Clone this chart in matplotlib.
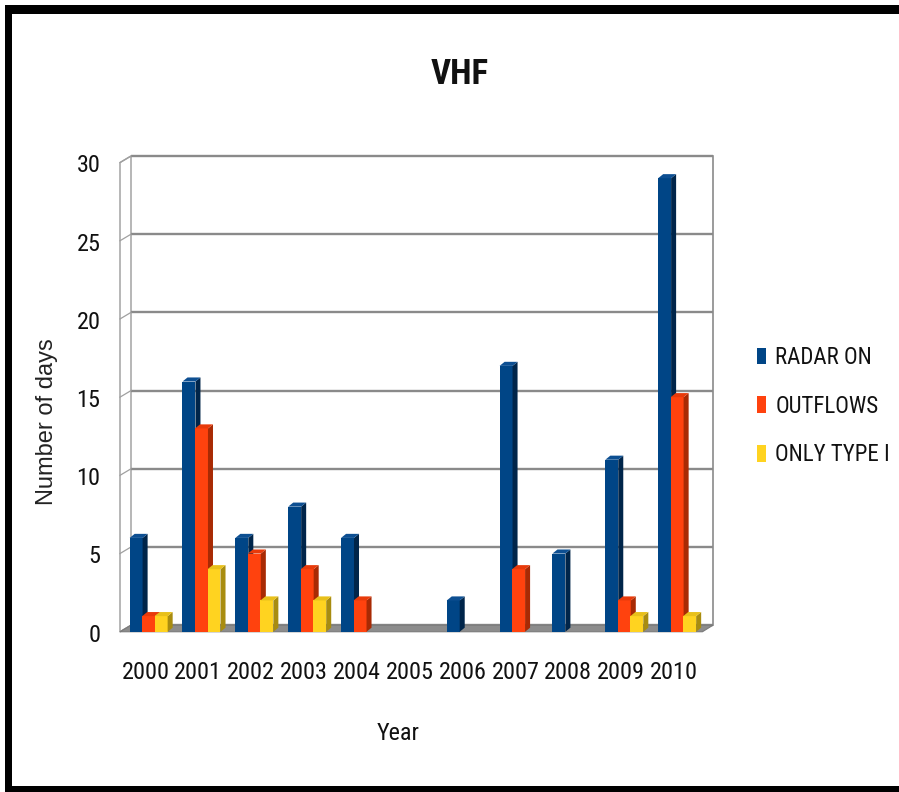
import matplotlib
matplotlib.use("Agg")
import matplotlib.pyplot as plt
import matplotlib.transforms as mtransforms
from matplotlib.patches import Polygon, Rectangle, Patch

# ---- data -------------------------------------------------------------
years = ["2000", "2001", "2002", "2003", "2004", "2005",
         "2006", "2007", "2008", "2009", "2010"]
radar_on = [6, 16, 6, 8, 6, 0, 2, 17, 5, 11, 29]
outflows = [1, 13, 5, 4, 2, 0, 0, 4, 0, 2, 15]
only_type_i = [1, 4, 2, 2, 0, 0, 0, 0, 0, 1, 1]
series_names = ["RADAR ON", "OUTFLOWS", "ONLY TYPE I"]
y_ticks = [0, 5, 10, 15, 20, 25, 30]

# ---- fonts --------------------------------------------------------------
plt.rcParams["font.family"] = ["Roboto Condensed", "Liberation Sans", "DejaVu Sans"]

# ---- style --------------------------------------------------------------
front_cols = ["#004586", "#ff420e", "#ffd320"]
side_cols = ["#00254a", "#a82a04", "#a88c10"]
top_cols = ["#0d4f92", "#e83a0a", "#e8c01a"]
grid_col = "#8a8a8a"

W, H, DPI = 899, 792, 100
fig = plt.figure(figsize=(W / DPI, H / DPI), dpi=DPI)
fig.patch.set_facecolor("white")

ax = fig.add_axes([120 / W, 1 - 633 / H, (713 - 120) / W, (633 - 156) / H])
x_left, x_right = (120 - 145.5) / 52.85, (713 - 145.5) / 52.85
ax.set_xlim(x_left, x_right)
ax.set_ylim(-0.5, 30)
for s in ax.spines.values():
    s.set_visible(False)
ax.set_facecolor("none")

# 3D geometry (in data units)
back_left = (131 - 145.5) / 52.85
drop = 0.42          # front plane sits slightly below the back wall
depth_x, depth_y = 0.095, 0.26
bar_w, step, first_off = 0.245, 0.237, -0.30

# left wall
ax.add_patch(Polygon([(x_left, -drop), (x_left, 30 - drop), (back_left, 30), (back_left, 0)],
                     closed=True, facecolor="white", edgecolor="#9a9a9a", lw=1.0,
                     zorder=1, clip_on=False))
# floor
ax.add_patch(Polygon([(x_left, -drop), (back_left, 0), (x_right, 0), (x_right - 0.2, -drop)],
                     closed=True, facecolor="#8c8c8c", edgecolor="#7a7a7a", lw=0.8,
                     zorder=2, clip_on=False))
# back-wall gridlines and wall diagonals
for v in y_ticks:
    ax.plot([back_left, x_right], [v, v], color=grid_col, lw=1.7, zorder=1.5,
            solid_capstyle="butt", clip_on=False)
    ax.plot([x_left, back_left], [v - drop, v], color="#a0a0a0", lw=0.9, zorder=1.6,
            clip_on=False)
ax.plot([x_right, x_right], [0, 30], color=grid_col, lw=1.2, zorder=1.5, clip_on=False)

# bars: front face, right side and top cap
series = [radar_on, outflows, only_type_i]
z = 3
for k, vals in enumerate(series):
    xs = [i + first_off + k * step for i in range(len(years))]
    bars = ax.bar(xs, vals, width=bar_w, bottom=-drop, align="edge",
                  color=front_cols[k], edgecolor="none", zorder=z)
    for rect, v in zip(bars, vals):
        if v == 0:
            rect.set_visible(False)
            continue
        x0 = rect.get_x()
        b = rect.get_y()
        t = b + rect.get_height()
        x1 = x0 + rect.get_width()
        ax.add_patch(Polygon([(x1, b), (x1 + depth_x, b + depth_y), (x1 + depth_x, t + depth_y), (x1, t)],
                             closed=True, facecolor=side_cols[k], edgecolor="none", zorder=z))
        ax.add_patch(Polygon([(x0, t), (x1, t), (x1 + depth_x, t + depth_y), (x0 + depth_x, t + depth_y)],
                             closed=True, facecolor=top_cols[k], edgecolor="none", zorder=z))
    z += 1

# ticks
ax.set_xticks(range(len(years)))
ax.set_xticklabels(years)
ax.set_yticks(y_ticks)
ax.set_yticklabels([str(v) for v in y_ticks])
ax.tick_params(axis="x", length=0, pad=20, labelsize=17.5, labelcolor="#111111")
ax.tick_params(axis="y", length=0, pad=14, labelsize=17.5, labelcolor="#111111")
shift = mtransforms.ScaledTranslation(0, -0.075, fig.dpi_scale_trans)
for lab in ax.get_yticklabels():
    lab.set_transform(lab.get_transform() + shift)

# titles
fig.text(460 / W, 1 - 74 / H, "VHF", ha="center", va="center", fontsize=25,
         fontweight="bold", color="#111111")
fig.text(398 / W, 1 - 734 / H, "Year", ha="center", va="center", fontsize=17.5, color="#111111")
fig.text(47 / W, 1 - 422 / H, "Number of days", ha="center", va="center", rotation=90,
         fontsize=17, color="#222222", family=["Liberation Sans", "DejaVu Sans"])

# legend
handles = [Patch(facecolor=c, edgecolor="none") for c in front_cols]
fig.legend(handles, series_names, loc="upper left", bbox_to_anchor=(757 / W, 1 - 346 / H),
           frameon=False, fontsize=16.5, handlelength=0.4, handleheight=0.75,
           handletextpad=0.4, labelspacing=1.12, borderpad=0, borderaxespad=0,
           labelcolor="#111111")

# outer frame
for x, y, w, h in [(5, 5, W - 5, 9), (5, 5, 7, H - 5), (5, H - 6, W - 5, 6)]:
    fig.patches.append(Rectangle((x / W, 1 - (y + h) / H), w / W, h / H,
                                 transform=fig.transFigure, facecolor="black",
                                 edgecolor="none", zorder=10))

fig.savefig("out.png", dpi=DPI)
